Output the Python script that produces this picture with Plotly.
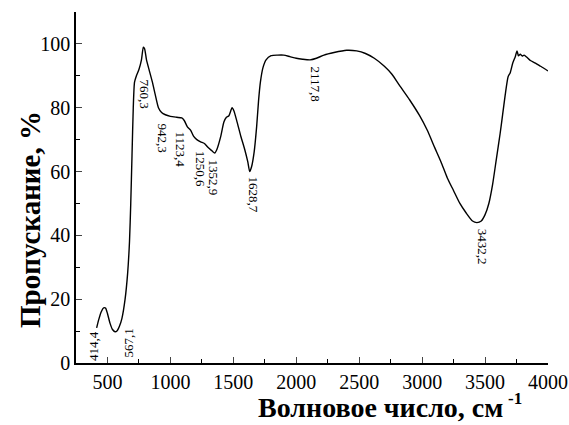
import plotly.graph_objects as go

wavenumber = [414, 430, 450, 470, 485, 500, 520, 540, 560, 575, 595, 615, 640, 660, 675, 685, 695, 705, 715, 730,
              750, 770, 785, 795, 810, 830, 857, 880, 905, 930, 960, 1000, 1050, 1090, 1110, 1135, 1160, 1185, 1210,
              1240, 1270, 1300, 1330, 1352, 1370, 1400, 1425, 1445, 1465, 1490, 1505, 1530, 1560, 1590, 1615, 1630,
              1645, 1665, 1685, 1700, 1715, 1735, 1760, 1800, 1850, 1900, 1950, 2000, 2050, 2110, 2160, 2220, 2300,
              2400, 2480, 2550, 2620, 2700, 2760, 2820, 2900, 2980, 3040, 3100, 3150, 3200, 3250, 3300, 3350, 3400,
              3435, 3470, 3500, 3530, 3560, 3590, 3620, 3640, 3660, 3683, 3700, 3720, 3740, 3754, 3765, 3780, 3795,
              3810, 3833, 3860, 3900, 3940, 3970, 4000]
transmittance = [11, 13.5, 16, 17.3, 17.2, 15.5, 12.5, 10.5, 9.8, 10, 11.5, 14, 20, 28, 38, 50, 65, 80, 88, 90,
                 92, 95, 99, 98.5, 95, 92, 88, 84, 80, 78.5, 77.8, 77.3, 77, 76.8, 76, 74, 73, 71, 70,
                 69.3, 68.8, 67.5, 66.5, 65.8, 67, 71, 75.5, 77, 77.5, 80, 79, 75.5, 71, 67, 63, 60,
                 61.5, 66, 74, 82, 88, 92.5, 95, 96.3, 96.5, 96.5, 96, 95.5, 95.2, 95, 95.5, 96.5, 97.3,
                 98, 97.8, 97, 95.5, 93, 90.5, 87, 82.5, 77.5, 73, 67.5, 63, 58, 54, 50, 47, 44.5,
                 44, 44.5, 46.5, 50, 56, 64, 72, 78, 84, 89.7, 91, 94, 96, 97.8, 96.3, 96.8, 96.2,
                 96.5, 95.8, 94.8, 94, 93, 92.3, 91.5]

peak_labels = ["414,4", "567,1", "760,3", "942,3", "1123,4", "1250,6", "1352,9", "1628,7", "2117,8", "3432,2"]
label_x = [385, 667, 802, 937, 1079, 1238, 1341, 1659, 2151, 3476]
label_y = [5.3, 6.3, 84.3, 70.5, 66.8, 60.8, 58, 52.7, 87.5, 36.4]
label_angle = [-90, -90, 90, 90, 90, 90, 90, 90, 90, 90]

x_ticks = [500, 1000, 1500, 2000, 2500, 3000, 3500, 4000]
y_ticks = [0, 20, 40, 60, 80, 100]
x_title = "<b>Волновое число, см</b>"
x_title_sup = "<b>-1</b>"
y_title = "<b>Пропускание, %</b>"

font = "Liberation Serif"
fig = go.Figure()
fig.add_trace(go.Scatter(x=wavenumber, y=transmittance, mode="lines",
                         line=dict(color="black", width=1.4, shape="spline", smoothing=0.6),
                         showlegend=False, hoverinfo="skip"))

for t, xx, yy, a in zip(peak_labels, label_x, label_y, label_angle):
    fig.add_annotation(x=xx, y=yy, text=t, showarrow=False, textangle=a,
                       font=dict(family=font, size=13, color="black"))

# axis titles (offset like the original)
fig.add_annotation(xref="paper", yref="paper", x=(505 - 76) / 472, y=-(407 - 363) / 351,
                   text=x_title, showarrow=False, xanchor="right", yanchor="middle",
                   font=dict(family=font, size=28, color="black"))
fig.add_annotation(xref="paper", yref="paper", x=(506 - 76) / 472, y=-(398 - 363) / 351,
                   text=x_title_sup, showarrow=False, xanchor="left", yanchor="middle",
                   font=dict(family=font, size=17, color="black"))
fig.add_annotation(xref="paper", yref="paper", x=-(76 - 30) / 472, y=(363 - 220) / 351,
                   text=y_title, showarrow=False, textangle=-90, xanchor="center", yanchor="middle",
                   font=dict(family=font, size=29, color="black"))

fig.update_layout(
    width=569, height=425,
    margin=dict(l=76, r=21, t=12, b=62),
    plot_bgcolor="white", paper_bgcolor="white",
    font=dict(family=font, color="black"),
    xaxis=dict(range=[250, 4000], tickvals=x_ticks, ticks="inside", ticklen=6, tickwidth=1.3,
               showline=True, linecolor="black", linewidth=1.5, showgrid=False, zeroline=False,
               automargin=False, tickfont=dict(family=font, size=20),
               minor=dict(tickvals=[750, 1250, 1750, 2250, 2750, 3250, 3750], ticks="inside", ticklen=4,
                          tickcolor="black")),
    yaxis=dict(range=[0, 110], tickvals=y_ticks, ticks="inside", ticklen=6, tickwidth=1.3,
               showline=True, linecolor="black", linewidth=1.5, showgrid=False, zeroline=False,
               automargin=False, tickfont=dict(family=font, size=20),
               minor=dict(tickvals=[10, 30, 50, 70, 90], ticks="inside", ticklen=4, tickcolor="black")),
)

fig.write_html("out.html")
